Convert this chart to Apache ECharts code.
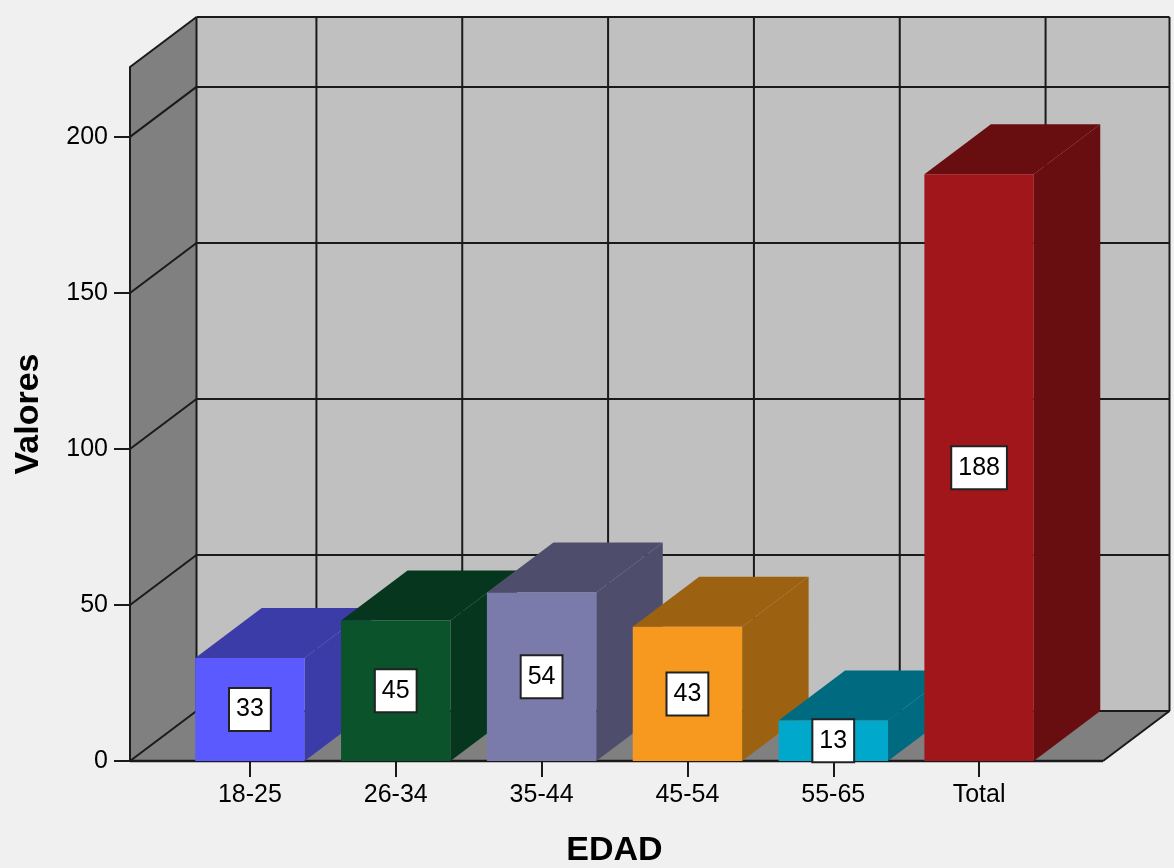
<!DOCTYPE html>
<html>
<head>
<meta charset="utf-8">
<script src="https://cdn.jsdelivr.net/npm/echarts@6/dist/echarts.min.js"></script>
<style>
  html, body { margin: 0; padding: 0; background: #f0f0f0; }
  #chart { width: 1174px; height: 868px; }
</style>
</head>
<body>
<div id="chart"></div>
<script>
// Age groups and counts
const categories = ['18-25', '26-34', '35-44', '45-54', '55-65', 'Total'];
const values = [33, 45, 54, 43, 13, 188];
const yTicks = [0, 50, 100, 150, 200];

// Face colours per bar: front face, then top/side face
const frontColors = ['#5a5aff', '#0a532b', '#7b7bab', '#f7981f', '#00a9cc', '#a1161a'];
const shadeColors = ['#3c3ca8', '#06361e', '#4e4e6c', '#9c6212', '#006a80', '#680e10'];

// Depth of the 3D box (pixels, towards the back-right)
const DX = 66.5;
const DY = -50;
// Extra room of the walls beyond the category bands
const PAD_L = 47;
const PAD_R = 51;
const FONT = '"Liberation Sans", Arial, sans-serif';
const LINE = '#1a1a1a';

function line(x1, y1, x2, y2, w) {
  return { type: 'line', shape: { x1, y1, x2, y2 }, style: { stroke: LINE, lineWidth: w || 2 } };
}

function renderFrame(params, api) {
  const cs = params.coordSys;
  const yTop = cs.y, yBot = cs.y + cs.height;
  const xL = cs.x - PAD_L, xR = cs.x + cs.width + PAD_R;
  const ch = [];
  // back wall
  ch.push({ type: 'rect', shape: { x: xL + DX, y: yTop + DY, width: xR - xL, height: yBot - yTop },
            style: { fill: '#c0c0c0' } });
  // floor
  ch.push({ type: 'polygon', shape: { points: [[xL, yBot], [xR, yBot], [xR + DX, yBot + DY], [xL + DX, yBot + DY]] },
            style: { fill: '#808080' } });
  // left wall
  ch.push({ type: 'polygon', shape: { points: [[xL, yBot], [xL, yTop], [xL + DX, yTop + DY], [xL + DX, yBot + DY]] },
            style: { fill: '#808080' } });
  // value grid lines on left and back walls
  yTicks.forEach(function (v) {
    const y = api.coord([0, v])[1];
    ch.push(line(xL, y, xL + DX, y + DY));
    ch.push(line(xL + DX, y + DY, xR + DX, y + DY));
  });
  // category grid lines on back wall
  categories.forEach(function (c, i) {
    const x = api.coord([i, 0])[0];
    ch.push(line(x + DX, yTop + DY, x + DX, yBot + DY));
  });
  // outlines
  ch.push(line(xL + DX, yTop + DY, xR + DX, yTop + DY));
  ch.push(line(xR + DX, yTop + DY, xR + DX, yBot + DY));
  ch.push(line(xL + DX, yTop + DY, xL + DX, yBot + DY));
  ch.push(line(xL, yTop, xL + DX, yTop + DY));
  ch.push(line(xL, yTop, xL, yBot));
  ch.push(line(xR, yBot, xR + DX, yBot + DY));
  ch.push(line(xL, yBot, xR, yBot, 2.5));
  return { type: 'group', children: ch };
}

function renderBar(params, api) {
  const i = api.value(0), v = api.value(1);
  const base = api.coord([i, 0]);
  const top = api.coord([i, v]);
  const w = api.size([1, 0])[0] * 0.75;
  const xl = base[0] - w / 2, xr = base[0] + w / 2;
  const yb = base[1], yt = top[1];
  const k = params.dataIndex;
  const front = frontColors[k], shade = shadeColors[k];
  return {
    type: 'group',
    children: [
      { type: 'polygon', shape: { points: [[xr, yt], [xr + DX, yt + DY], [xr + DX, yb + DY], [xr, yb]] },
        style: { fill: shade } },
      { type: 'polygon', shape: { points: [[xl, yt], [xl + DX, yt + DY], [xr + DX, yt + DY], [xr, yt]] },
        style: { fill: shade } },
      { type: 'rect', shape: { x: xl, y: yt, width: w, height: yb - yt }, style: { fill: front } },
      { type: 'text', x: base[0], y: (yt + yb) / 2,
        style: { text: String(v), fill: '#000', font: '25px ' + FONT, align: 'center', verticalAlign: 'middle',
                 backgroundColor: '#fff', borderColor: '#222', borderWidth: 2, padding: [8, 6, 8, 6] } }
    ]
  };
}

const chart = echarts.init(document.getElementById('chart'), null, { renderer: 'canvas' });
chart.setOption({
  backgroundColor: '#f0f0f0',
  animation: false,
  grid: { left: 177, right: 122, top: 67, bottom: 107, outerBoundsMode: 'none', containLabel: false },
  xAxis: {
    type: 'category',
    data: categories,
    axisLine: { show: false },
    axisTick: { show: true, alignWithLabel: true, length: 16, lineStyle: { color: LINE, width: 2 } },
    axisLabel: { color: '#000', fontSize: 25, fontFamily: FONT, margin: 22 },
    splitLine: { show: false },
    name: 'EDAD',
    nameLocation: 'middle',
    nameGap: 73,
    nameTextStyle: { color: '#000', fontSize: 34, fontWeight: 'bold', fontFamily: FONT }
  },
  yAxis: {
    type: 'value',
    min: 0,
    max: 222.4,
    interval: 50,
    offset: 47,
    axisLine: { show: true, lineStyle: { color: LINE, width: 2 } },
    axisTick: { show: true, length: 16, lineStyle: { color: LINE, width: 2 } },
    axisLabel: { color: '#000', fontSize: 25, fontFamily: FONT, margin: 22,
                 showMaxLabel: false },
    splitLine: { show: false },
    name: 'Valores',
    nameLocation: 'middle',
    nameRotate: 90,
    nameGap: 84,
    nameTextStyle: { color: '#000', fontSize: 34, fontWeight: 'bold', fontFamily: FONT }
  },
  series: [
    { type: 'custom', z: 1, clip: false, silent: true, renderItem: renderFrame, data: [[0, 0]] },
    { type: 'custom', z: 2, clip: false, silent: true, renderItem: renderBar,
      encode: { x: 0, y: 1 },
      data: categories.map(function (c, i) { return [i, values[i]]; }) }
  ]
});
</script>
</body>
</html>
